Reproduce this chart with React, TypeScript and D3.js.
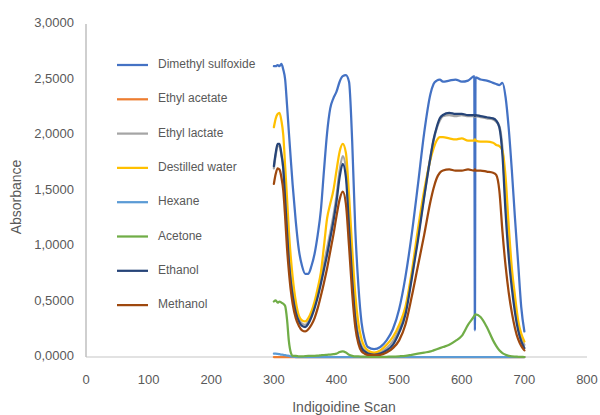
import React from "react";
import * as d3 from "d3";

const wavelengths = [300,303,306,309,312,315,318,321,324,327,330,335,340,345,350,355,360,365,370,375,380,385,390,395,400,405,410,415,420,425,430,435,440,445,450,460,470,480,490,500,510,520,530,540,550,555,560,565,570,580,590,600,610,620,621,622,630,640,650,655,660,665,670,675,680,685,690,695,700];

const dimethylSulfoxide = [2.62,2.62,2.63,2.62,2.64,2.59,2.50,2.27,2.02,1.78,1.55,1.22,0.96,0.82,0.75,0.75,0.82,0.93,1.10,1.32,1.68,2.02,2.24,2.33,2.39,2.48,2.53,2.54,2.48,1.95,1.15,0.64,0.31,0.16,0.09,0.07,0.09,0.15,0.25,0.43,0.72,1.10,1.55,2.02,2.37,2.46,2.49,2.50,2.48,2.49,2.50,2.48,2.49,2.53,0.24,2.52,2.50,2.49,2.47,2.46,2.45,2.47,2.34,2.06,1.68,1.25,0.85,0.45,0.23];
const ethylAcetate = wavelengths.map(() => 0);
const ethylLactate = [1.70,1.82,1.90,1.90,1.82,1.70,1.44,1.16,0.90,0.71,0.58,0.43,0.34,0.30,0.29,0.32,0.38,0.46,0.57,0.70,0.84,0.98,1.12,1.27,1.45,1.68,1.81,1.70,1.25,0.78,0.40,0.19,0.10,0.06,0.04,0.03,0.04,0.08,0.14,0.25,0.42,0.72,1.08,1.45,1.80,1.95,2.06,2.13,2.17,2.18,2.17,2.18,2.17,2.17,2.16,2.17,2.16,2.15,2.14,2.12,2.08,1.88,1.40,0.98,0.68,0.45,0.28,0.17,0.11];
const destilledWater = [2.07,2.15,2.19,2.20,2.13,2.00,1.72,1.43,1.13,0.90,0.72,0.50,0.37,0.33,0.32,0.35,0.41,0.50,0.62,0.76,1.00,1.25,1.38,1.50,1.68,1.85,1.92,1.84,1.46,0.98,0.56,0.30,0.16,0.09,0.06,0.04,0.06,0.11,0.18,0.29,0.45,0.76,1.15,1.50,1.78,1.88,1.95,1.98,1.98,1.97,1.96,1.97,1.95,1.95,1.96,1.95,1.94,1.94,1.93,1.91,1.90,1.86,1.62,1.18,0.80,0.55,0.33,0.21,0.14];
const hexane = [0.03,0.03,0.028,0.025,0.022,0.02,0.017,0.013,0.01,0.006,0.003,0,0,0,0,0,0,0,0,0,0,0,0,0,0,0,0,0,0,0,0,0,0,0,0,0,0,0,0,0,0,0,0,0,0,0,0,0,0,0,0,0,0,0,0,0,0,0,0,0,0,0,0,0,0,0,0,0,0];
const acetone = [0.50,0.51,0.49,0.50,0.49,0.48,0.46,0.34,0.14,0.04,0.01,0.01,0.005,0.005,0.008,0.01,0.01,0.01,0.012,0.015,0.018,0.02,0.022,0.025,0.03,0.045,0.05,0.04,0.02,0.01,0.005,0.005,0.004,0.003,0.002,0.001,0.001,0.002,0.003,0.006,0.01,0.02,0.03,0.04,0.05,0.06,0.07,0.08,0.09,0.11,0.145,0.19,0.29,0.37,0.38,0.385,0.36,0.27,0.15,0.10,0.06,0.035,0.02,0.01,0.005,0.003,0.002,0.001,0];
const ethanol = [1.72,1.84,1.92,1.92,1.83,1.70,1.42,1.13,0.86,0.68,0.55,0.40,0.32,0.28,0.27,0.30,0.36,0.44,0.54,0.66,0.79,0.92,1.07,1.22,1.40,1.62,1.74,1.62,1.17,0.70,0.34,0.16,0.08,0.05,0.03,0.02,0.03,0.06,0.11,0.22,0.38,0.70,1.05,1.44,1.80,1.96,2.07,2.15,2.18,2.20,2.19,2.19,2.18,2.18,2.17,2.18,2.17,2.16,2.15,2.13,2.07,1.82,1.30,0.90,0.62,0.40,0.24,0.14,0.08];
const methanol = [1.56,1.65,1.70,1.69,1.62,1.50,1.26,0.98,0.77,0.60,0.48,0.35,0.28,0.24,0.23,0.25,0.29,0.35,0.44,0.55,0.67,0.80,0.95,1.10,1.27,1.42,1.49,1.38,1.00,0.58,0.27,0.12,0.05,0.03,0.02,0.02,0.02,0.04,0.08,0.15,0.29,0.54,0.82,1.10,1.40,1.52,1.61,1.66,1.68,1.69,1.68,1.68,1.69,1.68,1.69,1.68,1.68,1.67,1.66,1.64,1.50,1.13,0.82,0.58,0.40,0.26,0.16,0.10,0.06];

const seriesNames = ["Dimethyl sulfoxide","Ethyl acetate","Ethyl lactate","Destilled water","Hexane","Acetone","Ethanol","Methanol"];
const seriesValues = [dimethylSulfoxide, ethylAcetate, ethylLactate, destilledWater, hexane, acetone, ethanol, methanol];
const seriesColors = ["#4472C4","#ED7D31","#A5A5A5","#FFC000","#5B9BD5","#70AD47","#264478","#9E480E"];

const xTicks = [0,100,200,300,400,500,600,700,800];
const yTicks = [0,0.5,1,1.5,2,2.5,3];

const W = 600, H = 415;
const FONT = "'Liberation Sans', Arial, sans-serif";

export default function App() {
  const x = d3.scaleLinear().domain([0, 800]).range([86, 587]);
  const y = d3.scaleLinear().domain([0, 3]).range([357, 24]);
  const line = d3.line<number>()
    .x((_, i) => x(wavelengths[i]))
    .y((d) => y(d))
    .curve(d3.curveMonotoneX);
  const fmt = (v: number) => d3.format(".4f")(v).replace(".", ",");
  const legendY0 = 65, legendStep = 34.3;

  return (
    <svg width={W} height={H} style={{ position: "absolute", left: 0, top: 0, background: "#fff" }}>
      <rect x={0} y={0} width={W} height={H} fill="#fff" />
      {/* axes */}
      <line x1={x(0)} x2={x(800)} y1={y(0)} y2={y(0)} stroke="#D9D9D9" strokeWidth={1.5} />
      <line x1={x(0)} x2={x(0)} y1={y(0)} y2={y(3)} stroke="#BFBFBF" strokeWidth={1.5} />
      {yTicks.map((t) => (
        <text key={"y" + t} x={74} y={y(t)} textAnchor="end" dominantBaseline="middle"
          fontFamily={FONT} fontSize={13} fill="#595959">{fmt(t)}</text>
      ))}
      {xTicks.map((t) => (
        <text key={"x" + t} x={x(t)} y={384} textAnchor="middle"
          fontFamily={FONT} fontSize={13} fill="#595959">{t}</text>
      ))}
      <text x={344} y={412} textAnchor="middle" fontFamily={FONT} fontSize={14} fill="#595959">Indigoidine Scan</text>
      <text transform={`translate(21,197) rotate(-90)`} textAnchor="middle" fontFamily={FONT} fontSize={14} fill="#595959">Absorbance</text>
      {/* series */}
      {seriesValues.map((vals, i) => (
        <path key={seriesNames[i]} d={line(vals) || ""} fill="none" stroke={seriesColors[i]}
          strokeWidth={2.25} strokeLinejoin="round" strokeLinecap="round" />
      ))}
      {/* legend */}
      {seriesNames.map((n, i) => (
        <g key={"lg" + n} transform={`translate(0,${legendY0 + i * legendStep})`}>
          <line x1={117} x2={148} y1={0} y2={0} stroke={seriesColors[i]} strokeWidth={2.25} />
          <text x={158} y={0} dominantBaseline="middle" fontFamily={FONT} fontSize={12} fill="#595959">{n}</text>
        </g>
      ))}
    </svg>
  );
}
